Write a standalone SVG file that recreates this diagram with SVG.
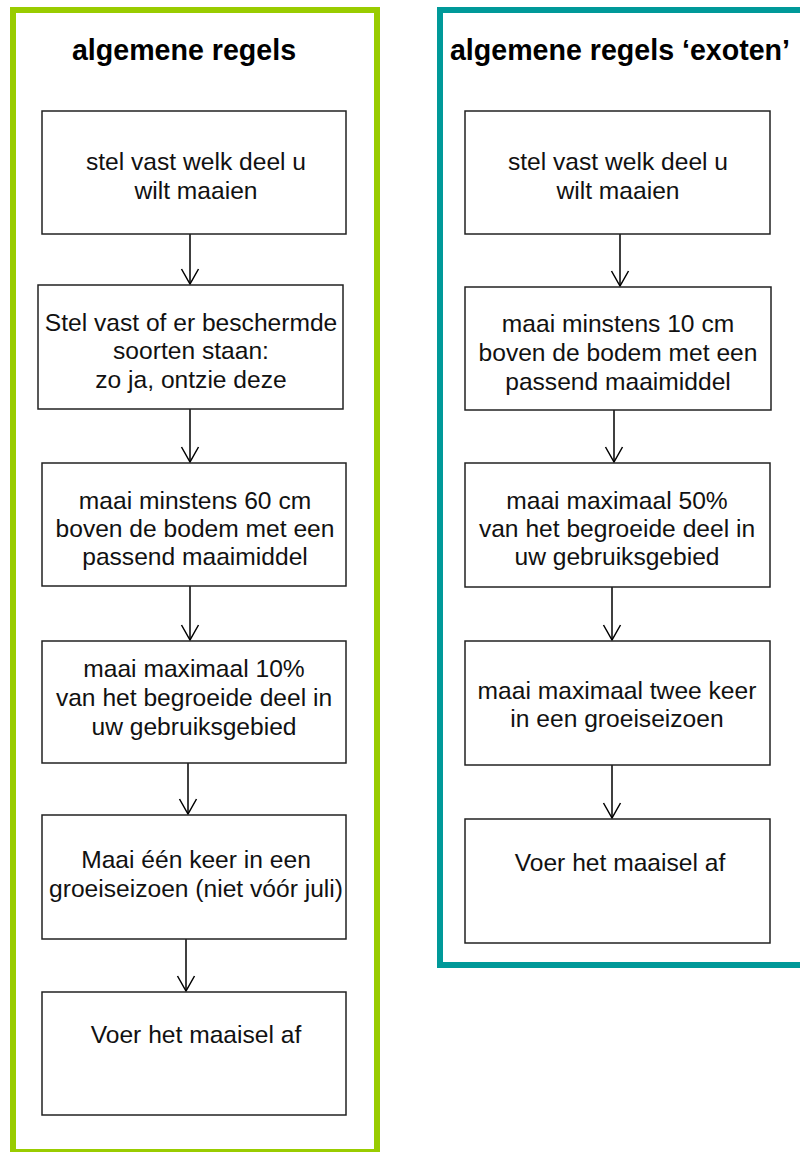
<svg xmlns="http://www.w3.org/2000/svg" width="800" height="1152" viewBox="0 0 800 1152">
<style>
.frame{fill:none;stroke-width:6}
.box{fill:#fff;stroke:#222;stroke-width:1.5}
.t{font-family:"Liberation Sans",Arial,sans-serif;font-size:24.6px;fill:#111;text-anchor:middle}
.h{font-family:"Liberation Sans",Arial,sans-serif;font-size:28.6px;font-weight:bold;fill:#000;text-anchor:middle}
.c{stroke:#000;stroke-width:1.5;fill:none}
</style>
<defs>
<marker id="arr" viewBox="0 0 20 20" refX="18" refY="10" markerWidth="20" markerHeight="20" markerUnits="userSpaceOnUse" orient="auto">
<path d="M3 1.5 L18 10 L3 18.5" fill="none" stroke="#000" stroke-width="1.5"/>
</marker>
</defs>
<rect width="800" height="1152" fill="#fff"/>
<g id="frame-left">
<rect class="frame" x="13" y="10" width="364" height="1142" stroke="#99cc00"/>
<text class="h" x="184" y="60">algemene regels</text>
</g>
<g id="frame-right">
<rect class="frame" x="440" y="10" width="370" height="955" stroke="#009999"/>
<text class="h" x="620" y="60">algemene regels ‘exoten’</text>
</g>
<g id="connectors">
<line class="c" x1="190" y1="234" x2="190" y2="284" marker-end="url(#arr)"/>
<line class="c" x1="190" y1="409" x2="190" y2="462" marker-end="url(#arr)"/>
<line class="c" x1="190" y1="586" x2="190" y2="640" marker-end="url(#arr)"/>
<line class="c" x1="188" y1="763" x2="188" y2="814" marker-end="url(#arr)"/>
<line class="c" x1="186" y1="939" x2="186" y2="991" marker-end="url(#arr)"/>
<line class="c" x1="620" y1="234" x2="620" y2="286" marker-end="url(#arr)"/>
<line class="c" x1="614" y1="410" x2="614" y2="462" marker-end="url(#arr)"/>
<line class="c" x1="612" y1="587" x2="612" y2="640" marker-end="url(#arr)"/>
<line class="c" x1="612" y1="765" x2="612" y2="818" marker-end="url(#arr)"/>
</g>
<g id="l1"><rect class="box" x="42" y="111" width="304" height="123"/>
<text class="t" x="196" y="170">stel vast welk deel u</text><text class="t" x="196" y="199">wilt maaien</text></g>
<g id="l2"><rect class="box" x="38" y="285" width="305" height="124"/>
<text class="t" x="191" y="331">Stel vast of er beschermde</text><text class="t" x="191" y="359">soorten staan:</text><text class="t" x="191" y="388">zo ja, ontzie deze</text></g>
<g id="l3"><rect class="box" x="42" y="463" width="304" height="123"/>
<text class="t" x="195" y="509">maai minstens 60 cm</text><text class="t" x="195" y="537">boven de bodem met een</text><text class="t" x="195" y="565">passend maaimiddel</text></g>
<g id="l4"><rect class="box" x="42" y="641" width="304" height="122"/>
<text class="t" x="194" y="677">maai maximaal 10%</text><text class="t" x="194" y="706">van het begroeide deel in</text><text class="t" x="194" y="735">uw gebruiksgebied</text></g>
<g id="l5"><rect class="box" x="42" y="815" width="304" height="124"/>
<text class="t" x="196" y="868">Maai één keer in een</text><text class="t" x="196" y="897">groeiseizoen (niet vóór juli)</text></g>
<g id="l6"><rect class="box" x="42" y="992" width="304" height="123"/>
<text class="t" x="196" y="1043">Voer het maaisel af</text></g>
<g id="r1"><rect class="box" x="465" y="111" width="305" height="123"/>
<text class="t" x="618" y="170">stel vast welk deel u</text><text class="t" x="618" y="199">wilt maaien</text></g>
<g id="r2"><rect class="box" x="465" y="287" width="306" height="123"/>
<text class="t" x="618" y="332">maai minstens 10 cm</text><text class="t" x="618" y="361">boven de bodem met een</text><text class="t" x="618" y="390">passend maaimiddel</text></g>
<g id="r3"><rect class="box" x="465" y="463" width="305" height="124"/>
<text class="t" x="617" y="509">maai maximaal 50%</text><text class="t" x="617" y="537">van het begroeide deel in</text><text class="t" x="617" y="565">uw gebruiksgebied</text></g>
<g id="r4"><rect class="box" x="465" y="641" width="305" height="124"/>
<text class="t" x="617" y="699">maai maximaal twee keer</text><text class="t" x="617" y="727">in een groeiseizoen</text></g>
<g id="r5"><rect class="box" x="465" y="819" width="305" height="124"/>
<text class="t" x="620" y="871">Voer het maaisel af</text></g>
</svg>
